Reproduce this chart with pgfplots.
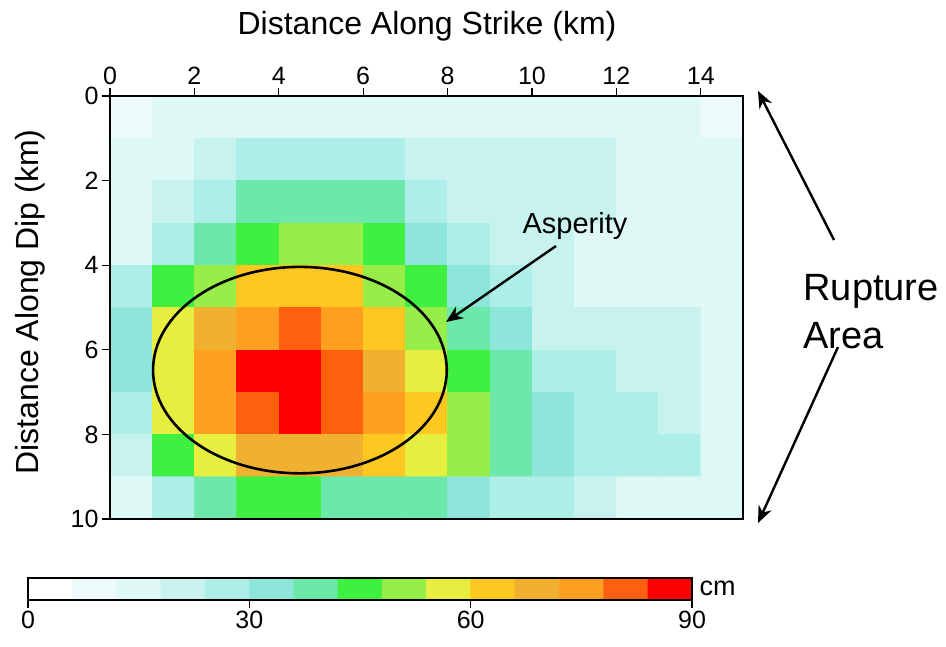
\documentclass[border=0pt]{standalone}
\usepackage{pgfplots}
\pgfplotsset{compat=1.18}
\usepackage{fontspec}
\setmainfont{Liberation Sans}
\usetikzlibrary{arrows.meta}
\pgfplotsset{
  slipmap/.style={
    colormap={slip}{
      rgb255=(255,255,255) rgb255=(236,251,250) rgb255=(222,248,245)
      rgb255=(200,242,238) rgb255=(174,238,232) rgb255=(142,230,218)
      rgb255=(108,232,170) rgb255=(64,240,64) rgb255=(152,238,72)
      rgb255=(232,238,64) rgb255=(255,200,32) rgb255=(240,176,48)
      rgb255=(255,160,32) rgb255=(255,96,16) rgb255=(255,0,0)},
    colormap access=piecewise constant,
    point meta min=0, point meta max=90,
  }
}
\begin{document}
\begin{tikzpicture}[x=1pt,y=1pt]
\useasboundingbox (0,0) rectangle (946,-646);
\begin{axis}[
  at={(110pt,-96pt)}, anchor=north west,
  scale only axis, width=633pt, height=423pt,
  xmin=0, xmax=15, ymin=0, ymax=10, y dir=reverse,
  enlargelimits=false, axis on top,
  xtick={0,2,...,14}, ytick={0,2,...,10},
  xtick pos=right, xticklabel pos=right, ytick pos=left,
  tick align=outside, major tick length=8pt,
  every tick/.style={black, line width=1.3pt},
  axis line style={line width=2pt},
  tick label style={font=\fontsize{25}{25}\selectfont},
  /pgf/number format/assume math mode=true,
  slipmap,
]
\addplot[matrix plot*, mesh/cols=15, point meta=explicit] coordinates {
(0.5,0.5)[9] (1.5,0.5)[15] (2.5,0.5)[15] (3.5,0.5)[15] (4.5,0.5)[15] (5.5,0.5)[15] (6.5,0.5)[15] (7.5,0.5)[15] (8.5,0.5)[15] (9.5,0.5)[15] (10.5,0.5)[15] (11.5,0.5)[15] (12.5,0.5)[15] (13.5,0.5)[15] (14.5,0.5)[9]
(0.5,1.5)[15] (1.5,1.5)[15] (2.5,1.5)[21] (3.5,1.5)[27] (4.5,1.5)[27] (5.5,1.5)[27] (6.5,1.5)[27] (7.5,1.5)[21] (8.5,1.5)[21] (9.5,1.5)[21] (10.5,1.5)[21] (11.5,1.5)[21] (12.5,1.5)[15] (13.5,1.5)[15] (14.5,1.5)[15]
(0.5,2.5)[15] (1.5,2.5)[21] (2.5,2.5)[27] (3.5,2.5)[39] (4.5,2.5)[39] (5.5,2.5)[39] (6.5,2.5)[39] (7.5,2.5)[27] (8.5,2.5)[21] (9.5,2.5)[21] (10.5,2.5)[21] (11.5,2.5)[21] (12.5,2.5)[15] (13.5,2.5)[15] (14.5,2.5)[15]
(0.5,3.5)[15] (1.5,3.5)[27] (2.5,3.5)[39] (3.5,3.5)[45] (4.5,3.5)[51] (5.5,3.5)[51] (6.5,3.5)[45] (7.5,3.5)[33] (8.5,3.5)[27] (9.5,3.5)[21] (10.5,3.5)[21] (11.5,3.5)[15] (12.5,3.5)[15] (13.5,3.5)[15] (14.5,3.5)[15]
(0.5,4.5)[27] (1.5,4.5)[45] (2.5,4.5)[51] (3.5,4.5)[63] (4.5,4.5)[63] (5.5,4.5)[63] (6.5,4.5)[51] (7.5,4.5)[45] (8.5,4.5)[33] (9.5,4.5)[27] (10.5,4.5)[21] (11.5,4.5)[15] (12.5,4.5)[15] (13.5,4.5)[15] (14.5,4.5)[15]
(0.5,5.5)[33] (1.5,5.5)[57] (2.5,5.5)[69] (3.5,5.5)[75] (4.5,5.5)[81] (5.5,5.5)[75] (6.5,5.5)[63] (7.5,5.5)[51] (8.5,5.5)[39] (9.5,5.5)[33] (10.5,5.5)[21] (11.5,5.5)[21] (12.5,5.5)[21] (13.5,5.5)[21] (14.5,5.5)[15]
(0.5,6.5)[33] (1.5,6.5)[57] (2.5,6.5)[75] (3.5,6.5)[87] (4.5,6.5)[87] (5.5,6.5)[81] (6.5,6.5)[69] (7.5,6.5)[57] (8.5,6.5)[45] (9.5,6.5)[39] (10.5,6.5)[27] (11.5,6.5)[27] (12.5,6.5)[21] (13.5,6.5)[21] (14.5,6.5)[15]
(0.5,7.5)[27] (1.5,7.5)[57] (2.5,7.5)[75] (3.5,7.5)[81] (4.5,7.5)[87] (5.5,7.5)[81] (6.5,7.5)[75] (7.5,7.5)[63] (8.5,7.5)[51] (9.5,7.5)[39] (10.5,7.5)[33] (11.5,7.5)[27] (12.5,7.5)[27] (13.5,7.5)[21] (14.5,7.5)[15]
(0.5,8.5)[21] (1.5,8.5)[45] (2.5,8.5)[57] (3.5,8.5)[69] (4.5,8.5)[69] (5.5,8.5)[69] (6.5,8.5)[63] (7.5,8.5)[57] (8.5,8.5)[51] (9.5,8.5)[39] (10.5,8.5)[33] (11.5,8.5)[27] (12.5,8.5)[27] (13.5,8.5)[27] (14.5,8.5)[15]
(0.5,9.5)[15] (1.5,9.5)[27] (2.5,9.5)[39] (3.5,9.5)[45] (4.5,9.5)[45] (5.5,9.5)[39] (6.5,9.5)[39] (7.5,9.5)[39] (8.5,9.5)[33] (9.5,9.5)[27] (10.5,9.5)[27] (11.5,9.5)[21] (12.5,9.5)[15] (13.5,9.5)[15] (14.5,9.5)[15]
};
\draw[line width=2.6pt] (axis cs:4.5,6.48) ellipse [x radius=3.48, y radius=2.44];
\end{axis}
% colorbar
\begin{axis}[
  at={(28pt,-600pt)}, anchor=south west,
  scale only axis, width=664pt, height=22pt,
  xmin=0, xmax=90, ymin=0, ymax=1,
  enlargelimits=false, axis on top,
  xtick={0,30,60,90}, ytick=\empty,
  xtick pos=left, tick align=outside, major tick length=8pt,
  every tick/.style={black, line width=1.1pt},
  axis line style={line width=1.1pt},
  tick label style={font=\fontsize{25}{25}\selectfont},
  /pgf/number format/assume math mode=true,
  slipmap,
]
\addplot[matrix plot*, mesh/cols=15, point meta=explicit] coordinates {
(3,0.25)[3] (9,0.25)[9] (15,0.25)[15] (21,0.25)[21] (27,0.25)[27] (33,0.25)[33] (39,0.25)[39] (45,0.25)[45] (51,0.25)[51] (57,0.25)[57] (63,0.25)[63] (69,0.25)[69] (75,0.25)[75] (81,0.25)[81] (87,0.25)[87]
(3,0.75)[3] (9,0.75)[9] (15,0.75)[15] (21,0.75)[21] (27,0.75)[27] (33,0.75)[33] (39,0.75)[39] (45,0.75)[45] (51,0.75)[51] (57,0.75)[57] (63,0.75)[63] (69,0.75)[69] (75,0.75)[75] (81,0.75)[81] (87,0.75)[87]
};
\end{axis}
% texts
\node[font=\fontsize{32}{32}\selectfont] at (427,-26) {Distance Along Strike (km)};
\node[font=\fontsize{32}{32}\selectfont, rotate=90] at (30,-302) {Distance Along Dip (km)};
\node[font=\fontsize{29}{29}\selectfont] at (575,-226) {Asperity};
\node[font=\fontsize{38}{38}\selectfont, anchor=base west] at (800,-300) {Rupture};
\node[font=\fontsize{38}{38}\selectfont, anchor=base west] at (800,-348) {Area};
\node[font=\fontsize{27}{27}\selectfont, anchor=west] at (696,-588) {cm};
% arrows
\draw[line width=2.4pt, -{Stealth[length=17pt,width=14pt]}] (556,-246) -- (446,-322);
\draw[line width=2.4pt, -{Stealth[length=17pt,width=14pt]}] (834,-240) -- (758,-91);
\draw[line width=2.4pt, -{Stealth[length=17pt,width=14pt]}] (838,-347) -- (758,-523);
\end{tikzpicture}
\end{document}
